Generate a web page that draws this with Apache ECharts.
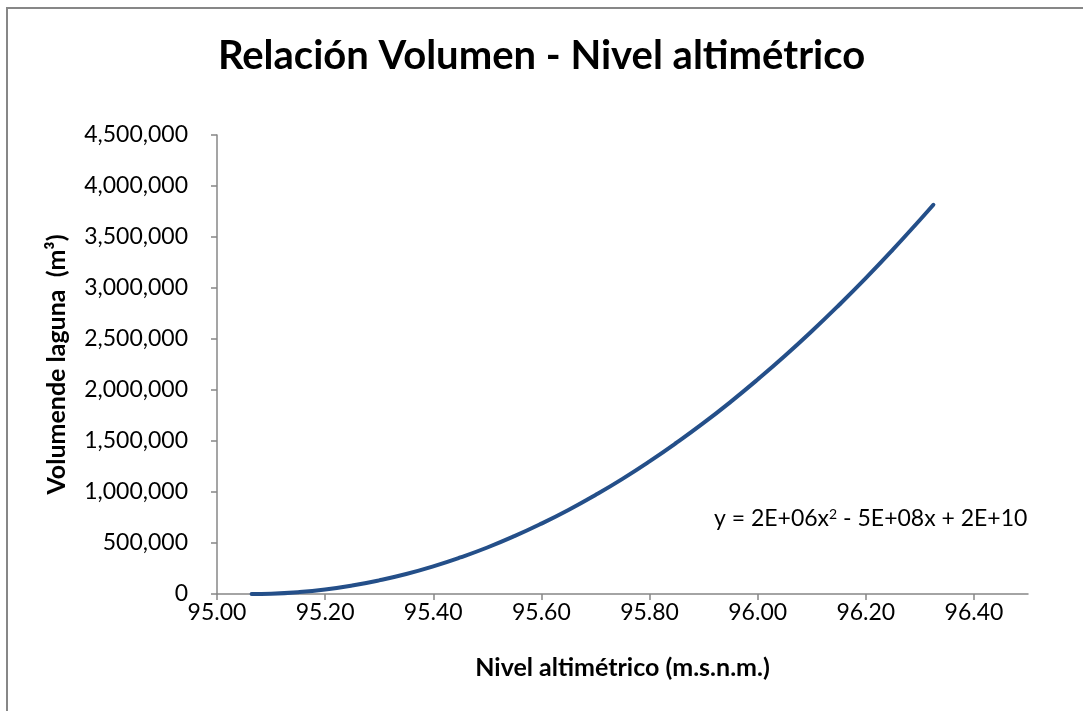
<!DOCTYPE html>
<html lang="es">
<head>
<meta charset="utf-8">
<title>Relación Volumen - Nivel altimétrico</title>
<script src="https://cdn.jsdelivr.net/npm/echarts@6/dist/echarts.min.js"></script>
<style>
  html, body { margin: 0; padding: 0; background: #fff; }
  #container { width: 1083px; height: 711px; }
</style>
</head>
<body>
<div id="container"></div>
<script>
// valores
var nivel = [95.064, 95.10, 95.15, 95.20, 95.25, 95.30, 95.35, 95.40, 95.45, 95.50,
             95.55, 95.60, 95.65, 95.70, 95.75, 95.80, 95.85, 95.90, 95.95, 96.00,
             96.05, 96.10, 96.15, 96.20, 96.25, 96.30, 96.325];
var volumen = [0, 3100, 17700, 44000, 83000, 134000, 196000, 271000, 358000, 456000,
               567000, 690000, 824000, 971000, 1129000, 1300000, 1483000, 1677000, 1884000, 2103000,
               2333000, 2576000, 2831000, 3097000, 3376000, 3667000, 3816000];
var ecuacion = ['y = 2E+06x', '2', ' - 5E+08x + 2E+10'];

var fuente = 'Lato, "Open Sans", sans-serif';
var puntos = [];
for (var i = 0; i < nivel.length; i++) {
    puntos.push([nivel[i], volumen[i]]);
}

var myChart = echarts.init(document.getElementById('container'));
var option = {
    backgroundColor: '#fff',
    animation: false,
    title: {
        text: 'Relación Volumen - Nivel altimétrico',
        left: 'center',
        top: 31,
        textStyle: { fontFamily: fuente, fontSize: 40, fontWeight: 'bold', color: '#000' }
    },
    grid: { left: 217, right: 55, top: 135, bottom: 117 },
    xAxis: {
        type: 'value',
        min: 95,
        max: 96.5,
        interval: 0.2,
        name: 'Nivel altimétrico (m.s.n.m.)',
        nameLocation: 'middle',
        nameGap: 61,
        nameTextStyle: { fontFamily: fuente, fontSize: 25, fontWeight: 'bold', color: '#000' },
        axisLine: { lineStyle: { color: '#878787', width: 1.5 } },
        axisTick: { show: true, length: 6, lineStyle: { color: '#878787', width: 1.5 } },
        splitLine: { show: false },
        axisLabel: {
            showMaxLabel: false,
            margin: 7,
            fontFamily: fuente, fontSize: 23, color: '#000',
            formatter: function (v) { return v.toFixed(2); }
        }
    },
    yAxis: {
        type: 'value',
        min: 0,
        max: 4500000,
        interval: 500000,
        name: 'Volumende laguna  (m³)',
        nameLocation: 'middle',
        nameGap: 148,
        nameTextStyle: { fontFamily: fuente, fontSize: 25, fontWeight: 'bold', color: '#000' },
        axisLine: { show: true, lineStyle: { color: '#878787', width: 1.5 } },
        axisTick: { show: true, length: 6, lineStyle: { color: '#878787', width: 1.5 } },
        splitLine: { show: false },
        axisLabel: {
            margin: 29,
            fontFamily: fuente, fontSize: 23, color: '#000',
            formatter: function (v) { return v.toLocaleString('en-US'); }
        }
    },
    series: [{
        name: 'Volumen',
        type: 'line',
        data: puntos,
        smooth: true,
        showSymbol: false,
        lineStyle: { color: '#244f89', width: 4, cap: 'round' }
    }],
    graphic: [
        {
            type: 'rect',
            shape: { x: 7, y: 8, width: 1100, height: 720 },
            style: { fill: 'none', stroke: '#878787', lineWidth: 2 },
            silent: true
        },
        {
            type: 'text',
            left: 714,
            top: 507,
            style: {
                text: '{a|' + ecuacion[0] + '}{s|' + ecuacion[1] + '}{a|' + ecuacion[2] + '}',
                rich: {
                    a: { fontFamily: fuente, fontSize: 23, color: '#000', verticalAlign: 'bottom' },
                    s: { fontFamily: fuente, fontSize: 14, color: '#000', verticalAlign: 'top', padding: [0, 0, 9, 0] }
                }
            }
        }
    ]
};
myChart.setOption(option);
</script>
</body>
</html>
